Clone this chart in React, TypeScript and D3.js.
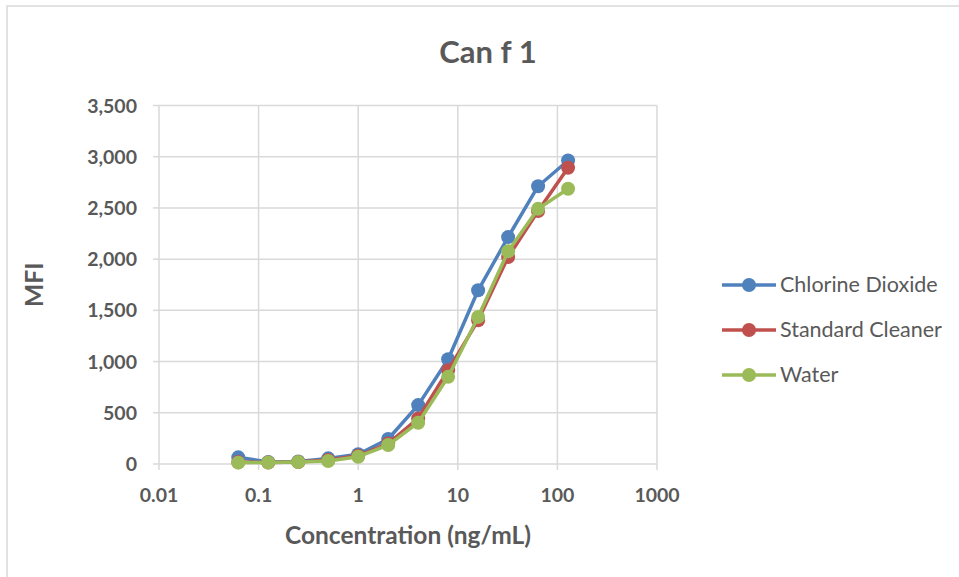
import React from "react";
import * as d3 from "d3";

const concentrations = [0.0625, 0.125, 0.25, 0.5, 1, 2, 4, 8, 16, 32, 64, 128];
const seriesNames = ["Chlorine Dioxide", "Standard Cleaner", "Water"];
const chlorineDioxide = [65, 20, 25, 55, 95, 244, 575, 1023, 1696, 2215, 2712, 2963];
const standardCleaner = [20, 15, 20, 40, 80, 200, 445, 916, 1403, 2020, 2469, 2892];
const water = [13, 15, 20, 30, 71, 185, 403, 851, 1436, 2076, 2491, 2687];
const seriesColors = ["#4F81BD", "#C0504D", "#9BBB59"];
const xTicks = [0.01, 0.1, 1, 10, 100, 1000];
const xTickLabels = ["0.01", "0.1", "1", "10", "100", "1000"];
const yTicks = [0, 500, 1000, 1500, 2000, 2500, 3000, 3500];

const W = 959;
const H = 577;
const plot = { left: 159, right: 657, top: 105.5, bottom: 464 };
const FONT = "Lato, 'Open Sans', sans-serif";
const TEXT = "#595959";

export default function App() {
  const x = d3.scaleLog().domain([0.01, 1000]).range([plot.left, plot.right]);
  const y = d3.scaleLinear().domain([0, 3500]).range([plot.bottom, plot.top]);
  const allSeries = [chlorineDioxide, standardCleaner, water];
  const line = d3
    .line<[number, number]>()
    .x((d) => x(d[0]))
    .y((d) => y(d[1]));
  const fmt = d3.format(",");

  return (
    <svg
      width={W}
      height={H}
      style={{ position: "absolute", left: 0, top: 0, background: "#fff" }}
      fontFamily={FONT}
    >
      <rect x={7} y={6} width={W + 10} height={H + 10} fill="#fff" stroke="#D9D9D9" strokeWidth={1.5} />
      <text x={488} y={63} textAnchor="middle" fontSize={31} fontWeight="bold" fill={TEXT}>
        Can f 1
      </text>
      {yTicks.map((t) => (
        <line key={"gy" + t} x1={plot.left} x2={plot.right} y1={y(t)} y2={y(t)} stroke="#D9D9D9" strokeWidth={1.5} />
      ))}
      {xTicks.map((t) => (
        <line key={"gx" + t} x1={x(t)} x2={x(t)} y1={plot.top} y2={plot.bottom} stroke="#D9D9D9" strokeWidth={1.5} />
      ))}
      {yTicks.map((t) => (
        <line key={"ty" + t} x1={plot.left - 6} x2={plot.left} y1={y(t)} y2={y(t)} stroke="#D9D9D9" strokeWidth={1.5} />
      ))}
      {xTicks.map((t) => (
        <line key={"tx" + t} x1={x(t)} x2={x(t)} y1={plot.bottom} y2={plot.bottom + 6} stroke="#D9D9D9" strokeWidth={1.5} />
      ))}
      {yTicks.map((t) => (
        <text key={"ly" + t} x={137} y={y(t) + 7} textAnchor="end" fontSize={19.5} fontWeight="bold" fill={TEXT}>
          {fmt(t)}
        </text>
      ))}
      {xTicks.map((t, i) => (
        <text key={"lx" + t} x={x(t)} y={502} textAnchor="middle" fontSize={19.5} fontWeight="bold" fill={TEXT}>
          {xTickLabels[i]}
        </text>
      ))}
      <text x={408} y={544} textAnchor="middle" fontSize={24.5} fontWeight="bold" fill={TEXT}>
        Concentration (ng/mL)
      </text>
      <text
        transform={`translate(43,${(plot.top + plot.bottom) / 2}) rotate(-90)`}
        textAnchor="middle"
        fontSize={24.5}
        fontWeight="bold"
        fill={TEXT}
      >
        MFI
      </text>
      {allSeries.map((vals, si) => {
        const pts = concentrations.map((c, i) => [c, vals[i]] as [number, number]);
        return (
          <g key={"s" + si}>
            <path d={line(pts) || ""} fill="none" stroke={seriesColors[si]} strokeWidth={3.5} strokeLinejoin="round" />
            {pts.map((p, i) => (
              <circle key={i} cx={x(p[0])} cy={y(p[1])} r={7} fill={seriesColors[si]} />
            ))}
          </g>
        );
      })}
      {seriesNames.map((n, i) => {
        const ly = 285 + i * 45;
        return (
          <g key={"lg" + i}>
            <line x1={722} x2={776} y1={ly} y2={ly} stroke={seriesColors[i]} strokeWidth={3.5} />
            <circle cx={749} cy={ly} r={7} fill={seriesColors[i]} />
            <text x={780} y={ly + 7} fontSize={21.5} fill={TEXT}>
              {n}
            </text>
          </g>
        );
      })}
    </svg>
  );
}
